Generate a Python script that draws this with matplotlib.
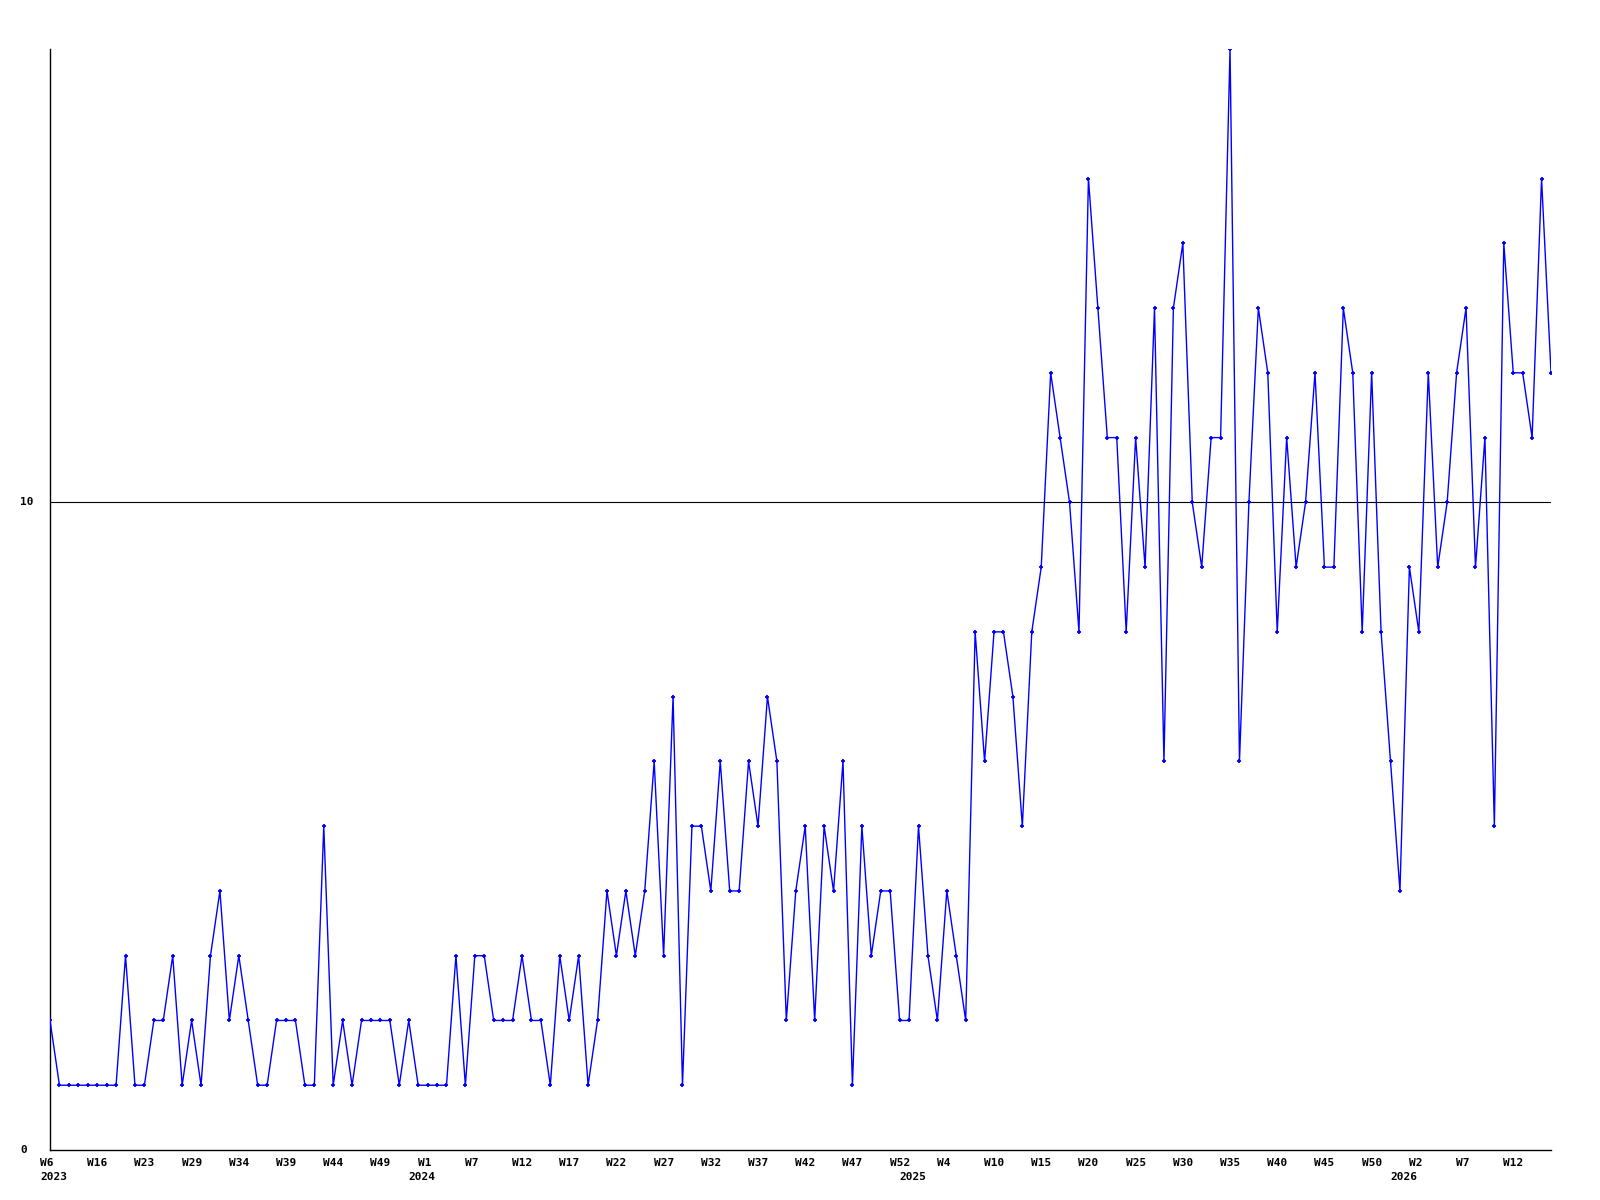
import matplotlib
matplotlib.use('Agg')
import matplotlib.pyplot as plt

# weekly counts, one value per point
values = [2, 1, 1, 1, 1, 1, 1, 1, 3, 1,
          1, 2, 2, 3, 1, 2, 1, 3, 4, 2,
          3, 2, 1, 1, 2, 2, 2, 1, 1, 5,
          1, 2, 1, 2, 2, 2, 2, 1, 2, 1,
          1, 1, 1, 3, 1, 3, 3, 2, 2, 2,
          3, 2, 2, 1, 3, 2, 3, 1, 2, 4,
          3, 4, 3, 4, 6, 3, 7, 1, 5, 5,
          4, 6, 4, 4, 6, 5, 7, 6, 2, 4,
          5, 2, 5, 4, 6, 1, 5, 3, 4, 4,
          2, 2, 5, 3, 2, 4, 3, 2, 8, 6,
          8, 8, 7, 5, 8, 9, 12, 11, 10, 8,
          15, 13, 11, 11, 8, 11, 9, 13, 6, 13,
          14, 10, 9, 11, 11, 17, 6, 10, 13, 12,
          8, 11, 9, 10, 12, 9, 9, 13, 12, 8,
          12, 8, 6, 4, 9, 8, 12, 9, 10, 12,
          13, 9, 11, 5, 14, 12, 12, 11, 15, 12]

week_labels = ['W6', 'W16', 'W23', 'W29', 'W34', 'W39', 'W44', 'W49',
               'W1', 'W7', 'W12', 'W17', 'W22', 'W27', 'W32', 'W37',
               'W42', 'W47', 'W52', 'W4', 'W10', 'W15', 'W20', 'W25',
               'W30', 'W35', 'W40', 'W45', 'W50', 'W2', 'W7', 'W12']
year_labels = ['2023', '2024', '2025', '2026']
year_starts = [0, 39, 91, 143]

y_labels = ['0', '10']

x = list(range(len(values)))

fig = plt.figure(figsize=(16, 12), dpi=100)
ax = fig.add_axes([50 / 1600, 50 / 1200, 1501 / 1600, 1101 / 1200])

ax.axhline(10, color='black', linewidth=0.8, zorder=1)
ax.plot(x, values, color='#0000ff', linewidth=1.0, marker='+',
        markersize=3, markeredgewidth=1.3, zorder=3)

ax.set_xlim(0, len(values) - 1)
ax.set_ylim(0, 17)
ax.set_xticks([])
ax.set_yticks([])
for side in ['top', 'right']:
    ax.spines[side].set_visible(False)
for side in ['left', 'bottom']:
    ax.spines[side].set_linewidth(1.0)
    ax.spines[side].set_color('black')

font = dict(family='DejaVu Sans Mono', weight='bold', fontsize=8)

for k, lab in enumerate(week_labels):
    ax.annotate(lab, xy=(k * 5, 0), xycoords=('data', 'axes fraction'),
                xytext=(-10, -13), textcoords='offset pixels',
                ha='left', va='center', annotation_clip=False, **font)

for lab, pos in zip(year_labels, year_starts):
    ax.annotate(lab, xy=(pos, 0), xycoords=('data', 'axes fraction'),
                xytext=(-10, -27), textcoords='offset pixels',
                ha='left', va='center', annotation_clip=False, **font)

for lab in y_labels:
    ax.annotate(lab, xy=(0, float(lab)), xycoords=('axes fraction', 'data'),
                xytext=(-30, 0), textcoords='offset pixels',
                ha='left', va='center', annotation_clip=False, **font)

fig.savefig('out.png', dpi=100)
